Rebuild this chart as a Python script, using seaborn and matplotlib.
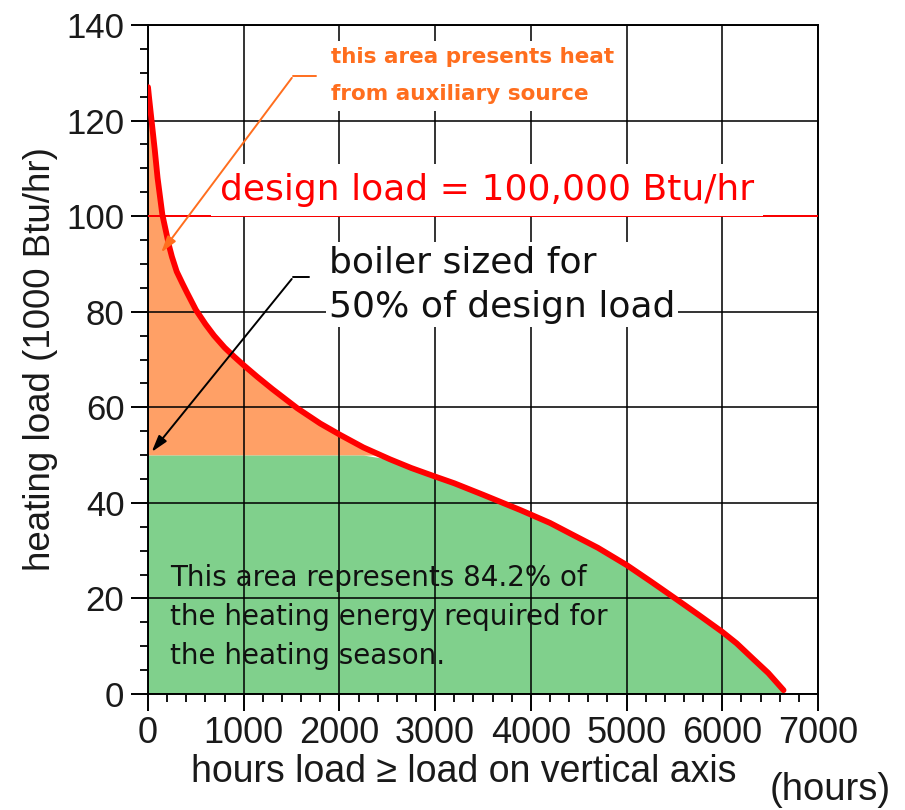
import numpy as np
import matplotlib
matplotlib.use('Agg')
from matplotlib import pyplot as plt
from matplotlib.ticker import MultipleLocator
import seaborn as sns

# load duration curve
hours = [0, 10, 40, 70, 100, 150, 220, 250, 300, 360, 410, 500, 600, 690, 800,
         900, 1000, 1140, 1300, 1560, 1800, 2010, 2250, 2530, 2750, 3000, 3200,
         3500, 3890, 4200, 4420, 4700, 5000, 5250, 5530, 5750, 6000, 6150, 6330,
         6480, 6640]
load = [127, 125, 119.5, 114, 108, 100.3, 93.8, 91.5, 88.4, 85.9, 83.9, 80.4,
        77.4, 75.0, 72.5, 70.6, 68.8, 66.4, 63.8, 59.8, 56.6, 54.2, 51.6, 49.1,
        47.3, 45.5, 44.1, 41.7, 38.5, 35.8, 33.5, 30.6, 27.0, 23.6, 19.7, 16.6,
        13.0, 10.6, 7.2, 4.4, 0.8]

design_load = 100
boiler_load = 50

x_ticks = [0, 1000, 2000, 3000, 4000, 5000, 6000, 7000]
y_ticks = [0, 20, 40, 60, 80, 100, 120, 140]

orange_fill = '#FFA066'
green_fill = '#80D08C'
orange_text = '#FF6E1E'

# **************************************************************************

sns.set_style('ticks')
plt.rcParams['font.family'] = ['DejaVu Sans']
helv = ['Liberation Sans', 'DejaVu Sans']

fig = plt.figure(figsize=(9.05, 8.1), dpi=100)
ax = fig.add_axes([148 / 905, 1 - 694 / 810, 670 / 905, 669 / 810])

h = np.array(hours, dtype=float)
q = np.array(load, dtype=float)

# auxiliary part (above boiler size) and boiler part
ax.fill_between(h, boiler_load, q, where=q >= boiler_load, interpolate=True,
                color=orange_fill, lw=0, zorder=1)
ax.fill_between(h, 0, np.minimum(q, boiler_load), color=green_fill, lw=0, zorder=1)

sns.lineplot(x=hours, y=load, color='red', lw=4.2, ax=ax, zorder=4)
ax.axhline(design_load, color='red', lw=1.4, zorder=3)

ax.set_xlim(0, 7000)
ax.set_ylim(0, 140)
ax.set_xticks(x_ticks)
ax.set_yticks(y_ticks)
ax.xaxis.set_minor_locator(MultipleLocator(200))
ax.yaxis.set_minor_locator(MultipleLocator(5))
ax.set_axisbelow(False)
ax.grid(True, which='major', color='black', lw=1.4, alpha=0.8)

for s in ax.spines.values():
    s.set_color('black')
    s.set_linewidth(1.4)

ax.tick_params(axis='both', which='major', length=12, width=1.4, color='black',
               labelcolor='#1a1a1a')
ax.tick_params(axis='both', which='minor', length=6, width=1.3, color='black')
ax.tick_params(axis='y', pad=5)
ax.tick_params(axis='x', pad=4)
for lab in ax.get_yticklabels():
    lab.set_family(helv)
    lab.set_fontsize(25)
for lab in ax.get_xticklabels():
    lab.set_family(helv)
    lab.set_fontsize(26)

ax.set_xlabel('')
ax.set_ylabel('heating load (1000 Btu/hr)', fontsize=26.5, labelpad=6,
              family=helv, color='#1a1a1a')

fig.text(464 / 905, 1 - 772 / 810, 'hours load \u2265 load on vertical axis',
         fontsize=27, ha='center', va='center', family=helv, color='#1a1a1a')
fig.text(830 / 905, 1 - 790 / 810, '(hours)', fontsize=27.5, ha='center', va='center',
         family=helv, color='#1a1a1a')

# annotations
ax.text(1910, 135.3, 'this area presents heat\nfrom auxiliary source', color=orange_text,
        fontsize=15.5, fontweight='bold', ha='left', va='top', linespacing=2.05,
        bbox=dict(facecolor='white', edgecolor='none', pad=5), zorder=3)
ax.plot([1520, 1750], [129.4, 129.4], color=orange_text, lw=1.4, zorder=5)
ax.annotate('', xy=(120, 91.9), xytext=(1520, 129.4),
            arrowprops=dict(arrowstyle='-|>,head_length=1.0,head_width=0.3',
                            color=orange_text, lw=1.4), zorder=5)

ax.text(3542, 105.5, 'design load = 100,000 Btu/hr', color='red', fontsize=26,
        ha='center', va='center',
        bbox=dict(facecolor='white', edgecolor='none', boxstyle='square,pad=0.25'),
        zorder=3)

ax.text(1886, 85.7, 'boiler sized for\n50% of design load', color='#111111',
        fontsize=26, ha='left', va='center', linespacing=1.4,
        bbox=dict(facecolor='white', edgecolor='none', pad=2), zorder=3)
ax.plot([1520, 1677], [87.3, 87.3], color='black', lw=1.4, zorder=5)
ax.annotate('', xy=(20, 50.2), xytext=(1520, 87.3),
            arrowprops=dict(arrowstyle='-|>,head_length=1.0,head_width=0.3',
                            color='black', lw=1.4), zorder=5)

ax.text(235, 16.1, 'This area represents 84.2% of\nthe heating energy required for\nthe heating season.',
        color='#111111', fontsize=20, ha='left', va='center', linespacing=1.5, zorder=3)

fig.savefig('out.png', dpi=100)
